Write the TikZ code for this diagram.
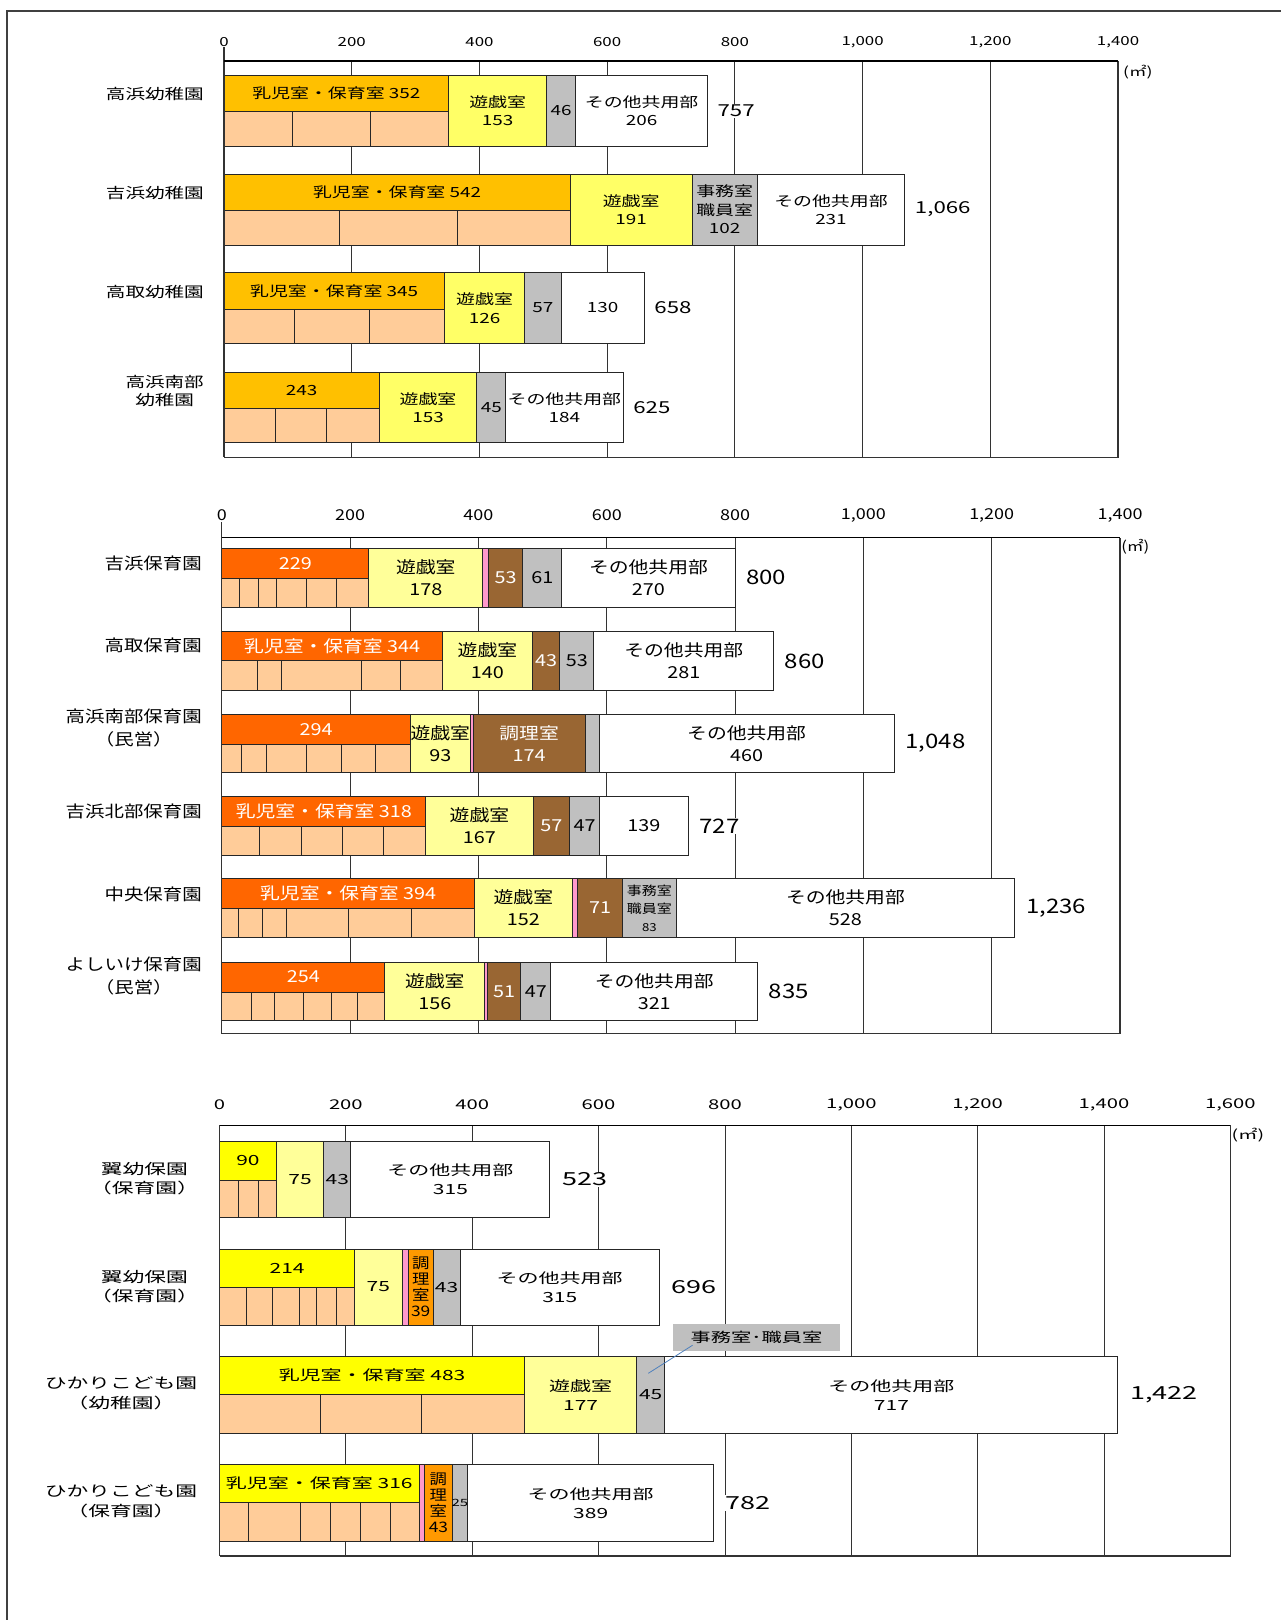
\documentclass[tikz,border=0pt]{standalone}
\usepackage{fontspec}
\newfontfamily\jpA{Noto Sans CJK JP}[FakeStretch=1.35]
\newfontfamily\jpB{Noto Sans CJK JP}[FakeStretch=1.2]
\newfontfamily\jpC{Noto Sans CJK JP}[FakeStretch=1.5]
\definecolor{cGold}{HTML}{FFC000}
\definecolor{cPeach}{HTML}{FFCC99}
\definecolor{cPlay}{HTML}{FFFF66}
\definecolor{cPale}{HTML}{FFFF99}
\definecolor{cYel}{HTML}{FFFF00}
\definecolor{cGray}{HTML}{C0C0C0}
\definecolor{cTag}{HTML}{BFBFBF}
\definecolor{cRed}{HTML}{FF6600}
\definecolor{cBrown}{HTML}{996633}
\definecolor{cPink}{HTML}{FF99CC}
\definecolor{cOrange}{HTML}{FF9900}
\definecolor{cLine}{HTML}{4F81BD}

% main room: coloured upper half, lower half split into rooms
\newcommand{\mainroom}[8]{%
  \draw[seg,#6] (0,#2) rectangle (#5,#3);
  \node[lbl,#6,fill=none] (#1-0) at ({#5/2},{(#2+#3)/2}) {#7};
  \draw[seg,fill=cPeach] (0,#3) rectangle (#5,#4);
  \foreach \d in {#8} \draw[seg] (\d,#3) -- (\d,#4);
}
% other rooms, full height: start/end/style/text
\newcommand{\rooms}[4]{%
  \foreach \a/\b/\f/\t [count=\k] in {#4} {
    \draw[seg,\f] (\a,#2) rectangle (\b,#3);
    \node[lbl,\f,fill=none] (#1-\k) at ({(\a+\b)/2},{(#2+#3)/2}) {\t};
  }
}

\begin{document}
\begin{tikzpicture}[x=1pt, y=-1pt,
  every node/.style={inner sep=0pt},
  seg/.style={draw=black!85, line width=0.9pt},
  grid/.style={draw=black!80, line width=0.8pt},
  axis/.style={draw=black, line width=1.7pt},
  rim/.style={draw=black!80, line width=1.2pt},
  cat/.style={anchor=east, align=center},
  total/.style={anchor=west, fill=white, inner sep=1pt},
  unit/.style={anchor=west}
]
\tikzset{
  gold/.style={fill=cGold},
  play/.style={fill=cPlay},
  pale/.style={fill=cPale},
  yel/.style={fill=cYel},
  gry/.style={fill=cGray},
  wht/.style={fill=white},
  rdo/.style={fill=cRed, text=white},
  brn/.style={fill=cBrown, text=white},
  pnk/.style={fill=cPink},
  org/.style={fill=cOrange, font=\jpB\fontsize{14.5}{16}\selectfont},
  gryS/.style={fill=cGray, font=\jpB\fontsize{12.5}{18}\selectfont},
  gryT/.style={fill=cGray, font=\jpC\fontsize{10}{10}\selectfont}
}
\useasboundingbox (0,0) rectangle (1281,1620);
\draw[draw=black!75, line width=2pt] (7.3,1620) -- (7.3,11) -- (1281,11);

% 幼稚園
\begin{scope}[shift={(224,0)}, x=0.6386pt,
  lbl/.style={align=center, font=\jpA\fontsize{14}{18.4}\selectfont},
  tick/.style={font=\jpA\fontsize{12.5}{12.5}\selectfont},
  cat/.append style={xshift=-20pt, font=\jpA\fontsize{14.5}{18}\selectfont},
  total/.append style={xshift=9pt, font=\jpA\fontsize{16.5}{16.5}\selectfont},
  unit/.append style={xshift=5pt, font=\jpA\fontsize{13}{13}\selectfont}]
  \foreach \v in {200,400,...,1200} \draw[grid] (\v,60.7) -- (\v,457.3);
  \foreach \v/\t in {0/0,200/200,400/400,600/600,800/800,1000/{1,000},1200/{1,200},1400/{1,400}}
    \node[tick] (a1-\v) at (\v,42) {\t};
  \node[unit] (u1) at (1400,72) {(㎡)};

  \node[cat] (k1) at (0,94) {高浜幼稚園};
  \mainroom{k1}{75.7}{111.7}{146}{352}{gold}{乳児室・保育室 352}{107,230}
  \rooms{k1}{75.7}{146}{352/505/play/{遊戯室\\153}, 505/551/gry/46, 551/757/wht/{その他共用部\\206}}
  \node[total] (k1-t) at (757,110.9) {757};

  \node[cat] (k2) at (0,192.7) {吉浜幼稚園};
  \mainroom{k2}{174}{210.7}{245}{542}{gold}{乳児室・保育室 542}{181,366}
  \rooms{k2}{174}{245}{542/733/play/{遊戯室\\191}, 733/835/gry/{事務室\\職員室\\102}, 835/1066/wht/{その他共用部\\231}}
  \node[total] (k2-t) at (1066,209.5) {1,066};

  \node[cat] (k3) at (0,292) {高取幼稚園};
  \mainroom{k3}{272.7}{309.3}{343.3}{345}{gold}{乳児室・保育室 345}{111,228}
  \rooms{k3}{272.7}{343.3}{345/471/play/{遊戯室\\126}, 471/528/gry/57, 528/658/wht/130}
  \node[total] (k3-t) at (658,308) {658};

  \node[cat] (k4) at (0,391) {高浜南部\\幼稚園};
  \mainroom{k4}{372.3}{408.3}{442.7}{243}{gold}{243}{80,161}
  \rooms{k4}{372.3}{442.7}{243/396/play/{遊戯室\\153}, 396/441/gry/45, 441/625/wht/{その他共用部\\184}}
  \node[total] (k4-t) at (625,407.5) {625};

  \draw[rim] (0,457.3) -- (1400,457.3) -- (1400,60.7);
  \draw[rim] (0,47) -- (0,457.3);
  \draw[axis] (0,60.7) -- (1400,60.7);
\end{scope}

% 保育園
\begin{scope}[shift={(221.8,0)}, x=0.6416pt,
  lbl/.style={align=center, font=\jpB\fontsize{16.5}{22}\selectfont},
  tick/.style={font=\jpB\fontsize{15}{15}\selectfont},
  cat/.append style={xshift=-19.8pt, font=\jpB\fontsize{16.2}{23}\selectfont},
  total/.append style={xshift=10pt, font=\jpB\fontsize{20}{20}\selectfont},
  unit/.append style={xshift=1pt, font=\jpB\fontsize{14}{14}\selectfont}]
  \foreach \v in {200,400,...,1200} \draw[grid] (\v,537.5) -- (\v,1033.6);
  \foreach \v/\t in {0/0,200/200,400/400,600/600,800/800,1000/{1,000},1200/{1,200},1400/{1,400}}
    \node[tick] (a2-\v) at (\v,515) {\t};
  \node[unit] (u2) at (1400,547) {(㎡)};

  \node[cat] (h1) at (0,563.2) {吉浜保育園};
  \mainroom{h1}{548.2}{578.2}{607.1}{229}{rdo}{229}{28,56.5,85,132,179}
  \rooms{h1}{548.2}{607.1}{229/407/pale/{遊戯室\\178}, 407/416/pnk/{}, 416/469/brn/53, 469/530/gry/61, 530/800/wht/{その他共用部\\270}}
  \node[total] (h1-t) at (800,577.7) {800};

  \node[cat] (h2) at (0,645.7) {高取保育園};
  \mainroom{h2}{631.4}{660.7}{690.7}{344}{rdo}{乳児室・保育室 344}{56,93,217,279}
  \rooms{h2}{631.4}{690.7}{344/484/pale/{遊戯室\\140}, 484/527/brn/43, 527/580/gry/53, 580/860/wht/{その他共用部\\281}}
  \node[total] (h2-t) at (860,661) {860};

  \node[cat] (h3) at (0,728.4) {高浜南部保育園\\（民営）};
  \mainroom{h3}{714.3}{744.3}{772.9}{294}{rdo}{294}{30,69,132,186,239}
  \rooms{h3}{714.3}{772.9}{294/387/pale/{遊戯室\\93}, 387/392/pnk/{}, 392/566/brn/{調理室\\174}, 566/588/gry/{}, 588/1048/wht/{その他共用部\\460}}
  \node[total] (h3-t) at (1048,743.6) {1,048};

  \node[cat] (h4) at (0,811.4) {吉浜北部保育園};
  \mainroom{h4}{796.4}{826.4}{855.7}{318}{rdo}{乳児室・保育室 318}{58,124,188,252}
  \rooms{h4}{796.4}{855.7}{318/485/pale/{遊戯室\\167}, 485/542/brn/57, 542/589/gry/47, 589/727/wht/139}
  \node[total] (h4-t) at (727,826) {727};

  \node[cat] (h5) at (0,894.3) {中央保育園};
  \mainroom{h5}{878.9}{908.6}{937.1}{394}{rdo}{乳児室・保育室 394}{26,64,101,198,295}
  \rooms{h5}{878.9}{937.1}{394/546/pale/{遊戯室\\152}, 546/554/pnk/{}, 554/625/brn/71, 625/708/gryS/{事務室\\職員室\\\fontsize{11}{11}\selectfont 83}, 708/1236/wht/{その他共用部\\528}}
  \node[total] (h5-t) at (1236,908) {1,236};

  \node[cat] (h6) at (0,976) {よしいけ保育園\\（民営）};
  \mainroom{h6}{962.1}{992.1}{1020.7}{254}{rdo}{254}{46,82,128,171,212}
  \rooms{h6}{962.1}{1020.7}{254/410/pale/{遊戯室\\156}, 410/414/pnk/{}, 414/466/brn/51, 466/513/gry/47, 513/835/wht/{その他共用部\\321}}
  \node[total] (h6-t) at (835,991.4) {835};

  \draw[rim] (0,1033.6) -- (1400,1033.6) -- (1400,537.5);
  \draw[rim] (0,522) -- (0,1033.6);
  \draw[axis] (0,537.5) -- (1400,537.5);
\end{scope}

% こども園
\begin{scope}[shift={(219.5,0)}, x=0.6318pt,
  lbl/.style={align=center, font=\jpC\fontsize{14}{19.3}\selectfont},
  tick/.style={font=\jpC\fontsize{13.5}{13.5}\selectfont},
  cat/.append style={xshift=-20.5pt, font=\jpC\fontsize{14.5}{19.6}\selectfont},
  total/.append style={xshift=11pt, font=\jpC\fontsize{18}{18}\selectfont},
  unit/.append style={xshift=1pt, font=\jpC\fontsize{13}{13}\selectfont}]
  \foreach \v in {200,400,...,1400} \draw[grid] (\v,1125.4) -- (\v,1556);
  \foreach \v/\t in {0/0,200/200,400/400,600/600,800/800,1000/{1,000},1200/{1,200},1400/{1,400},1600/{1,600}}
    \node[tick] (a3-\v) at (\v,1105) {\t};
  \node[unit] (u3) at (1600,1135) {(㎡)};

  \node[cat] (c1) at (0,1178.8) {翼幼保園\\（保育園）};
  \mainroom{c1}{1141.2}{1180.2}{1217.4}{90}{yel}{90}{30.4,60.9}
  \rooms{c1}{1141.2}{1217.4}{90/165/pale/75, 165/208/gry/43, 208/523/wht/{その他共用部\\315}}
  \node[total] (c1-t) at (523,1179.3) {523};

  \node[cat] (c2) at (0,1286.7) {翼幼保園\\（保育園）};
  \mainroom{c2}{1249}{1287.5}{1325.1}{214}{yel}{214}{42,84,126,154,185}
  \rooms{c2}{1249}{1325.1}{214/289/pale/75, 289/299/pnk/{}, 299/338/org/{調\\理\\室\\39}, 338/381/gry/43, 381/696/wht/{その他共用部\\315}}
  \node[total] (c2-t) at (696,1287) {696};

  \node[cat, xshift=-1.6pt] (c3) at (0,1393) {ひかりこども園\\（幼稚園）};
  \mainroom{c3}{1356.7}{1394.6}{1433.2}{483}{yel}{乳児室・保育室 483}{160.5,319.7}
  \rooms{c3}{1356.7}{1433.2}{483/660/pale/{遊戯室\\177}, 660/705/gry/45, 705/1422/wht/{その他共用部\\717}}
  \node[total] (c3-t) at (1422,1395) {1,422};
  \coordinate (cp) at (678.7,1373.3);
  \node[fill=cTag, minimum width=167pt, minimum height=26.7pt, font=\jpC\fontsize{13.5}{13.5}\selectfont] (cb) at (850,1337.4) {事務室･職員室};
  \draw[cLine, line width=0.8pt] ([xshift=19.7pt,yshift=5.7pt]cb.south west) -- (cp);

  \node[cat, xshift=-1.6pt] (c4) at (0,1501) {ひかりこども園\\（保育園）};
  \mainroom{c4}{1464.4}{1502.3}{1541.6}{316}{yel}{乳児室・保育室 316}{45.7,127.9,175.8,223,270.9}
  \rooms{c4}{1464.4}{1541.6}{316/325/pnk/{}, 325/368/org/{調\\理\\室\\43}, 368/393/gryT/25, 393/782/wht/{その他共用部\\389}}
  \node[total] (c4-t) at (782,1503) {782};

  \draw[rim] (0,1556) -- (1600,1556) -- (1600,1125.4);
  \draw[rim] (0,1125.4) -- (0,1556);
  \draw[axis] (0,1125.4) -- (1600,1125.4);
\end{scope}
\end{tikzpicture}
\end{document}
